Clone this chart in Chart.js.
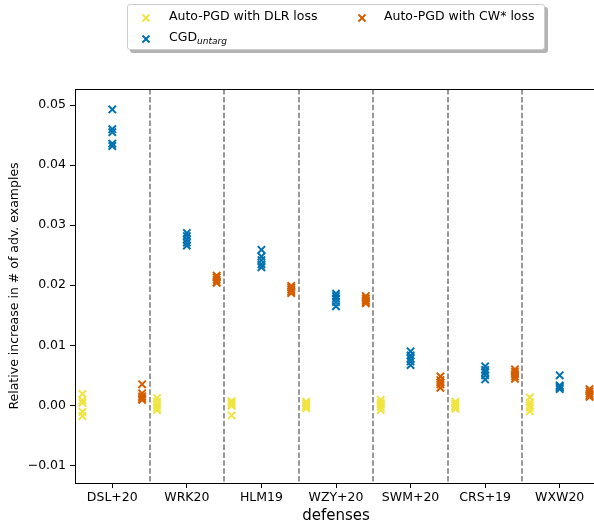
<!DOCTYPE html>
<html>
<head>
<meta charset="utf-8">
<script src="https://cdn.jsdelivr.net/npm/chart.js@4"></script>
<style>
  html, body { margin:0; padding:0; background:#fff; overflow:hidden; width:594px; height:527px; }
  #wrap { position:relative; width:600px; height:527px; }
  canvas { position:absolute; left:0; top:0; }
  #legend { position:absolute; left:127px; top:4px; width:416px; height:44px; border:1px solid #cccccc; border-radius:3px; background:#fff; box-shadow:3px 3px 0 rgba(128,128,128,0.6); font-family:"DejaVu Sans"; font-size:12.5px; color:#000; }
  .item { position:absolute; white-space:nowrap; line-height:15px; }
  .mk { position:absolute; }
  sub { font-size:9px; font-style:italic; vertical-align:-3px; line-height:0; }
</style>
</head>
<body>
<div id="wrap">
  <canvas id="c" width="600" height="527"></canvas>
  <div id="legend"></div>
</div>
<script>
const categories = ['DSL+20','WRK20','HLM19','WZY+20','SWM+20','CRS+19','WXW20'];
const yTicks = [-0.01, 0.00, 0.01, 0.02, 0.03, 0.04, 0.05];

const dlrValues = [
  [0.0019, 0.0008, 0.0004, -0.0011, -0.0018],
  [0.0012, 0.0006, 0.0000, -0.0004, -0.0008],
  [0.0007, 0.0004, 0.0002, -0.0001, -0.0017],
  [0.0006, 0.0003, 0.0000, -0.0003, -0.0005],
  [0.0009, 0.0004, 0.0001, -0.0003, -0.0008],
  [0.0006, 0.0003, 0.0000, -0.0003, -0.0006],
  [0.0013, 0.0005, 0.0000, -0.0004, -0.0010]
];
const cgdValues = [
  [0.0493, 0.0460, 0.0455, 0.0436, 0.0432],
  [0.0287, 0.0282, 0.0276, 0.0271, 0.0266],
  [0.0259, 0.0248, 0.0242, 0.0235, 0.0230],
  [0.0186, 0.0182, 0.0178, 0.0172, 0.0165],
  [0.0090, 0.0083, 0.0078, 0.0073, 0.0067],
  [0.0065, 0.0059, 0.0055, 0.0050, 0.0043],
  [0.0050, 0.0033, 0.0031, 0.0029, 0.0027]
];
const cwValues = [
  [0.0035, 0.0020, 0.0015, 0.0012, 0.0009],
  [0.0216, 0.0213, 0.0209, 0.0205, 0.0204],
  [0.0199, 0.0196, 0.0193, 0.0190, 0.0187],
  [0.0182, 0.0178, 0.0175, 0.0172, 0.0170],
  [0.0048, 0.0042, 0.0038, 0.0035, 0.0029],
  [0.0060, 0.0056, 0.0052, 0.0048, 0.0044],
  [0.0027, 0.0023, 0.0019, 0.0016, 0.0014]
];

const seriesNames = ['Auto-PGD with DLR loss', 'CGD', 'Auto-PGD with CW* loss'];
const colors = ['#f0e442', '#0072b2', '#d55e00'];
const offsets = [-0.4, 0, 0.4];

function toPoints(vals, off) {
  const pts = [];
  vals.forEach((arr, i) => arr.forEach(v => pts.push({x: i + off, y: v})));
  return pts;
}
const allVals = [dlrValues, cgdValues, cwValues];
const datasets = allVals.map((vals, k) => ({
  label: seriesNames[k],
  data: toPoints(vals, offsets[k]),
  pointStyle: 'crossRot',
  pointRadius: 5.2,
  pointHoverRadius: 5.2,
  pointBorderWidth: 2,
  borderColor: colors[k],
  backgroundColor: colors[k],
  showLine: false
}));

const FONT = 'DejaVu Sans';
Chart.defaults.color = '#000';
Chart.defaults.font.family = FONT;

const sepLines = {
  id: 'sepLines',
  afterLayout(chart) {
    // force the plot frame to the reference geometry (right spine just past the picture edge)
    const a = chart.chartArea;
    const targetRight = 597;
    if (Math.abs(a.right - targetRight) > 0.01) {
      a.right = targetRight;
      a.width = a.right - a.left;
      chart.scales.x.right = targetRight;
      chart.scales.x.width = targetRight - chart.scales.x.left;
      chart.scales.x.configure();
    }
  },
  beforeDatasetsDraw(chart) {
    const {ctx, chartArea, scales} = chart;
    ctx.save();
    ctx.strokeStyle = '#808080';
    ctx.lineWidth = 1.6;
    ctx.setLineDash([5.5, 2.4]);
    for (let i = 0; i < categories.length - 1; i++) {
      const x = Math.round(scales.x.getPixelForValue(i + 0.5));
      ctx.beginPath();
      ctx.moveTo(x, chartArea.top);
      ctx.lineTo(x, chartArea.bottom);
      ctx.stroke();
    }
    ctx.restore();
  },
  afterDraw(chart) {
    const {ctx, chartArea} = chart;
    ctx.save();
    ctx.strokeStyle = '#000';
    ctx.lineWidth = 1;
    ctx.strokeRect(Math.round(chartArea.left) + 0.5, Math.round(chartArea.top) + 0.5,
      chartArea.right - chartArea.left, chartArea.bottom - chartArea.top);
    ctx.restore();
  }
};

new Chart(document.getElementById('c'), {
  type: 'scatter',
  data: { datasets },
  options: {
    responsive: false,
    animation: false,
    devicePixelRatio: 1,
    layout: { padding: { left: 0, top: 89, right: 3, bottom: 0 } },
    plugins: { legend: { display: false }, tooltip: { enabled: false } },
    scales: {
      x: {
        type: 'linear',
        min: -0.5, max: 6.5,
        afterFit(s) { s.height = 44; s.paddingLeft = 0; s.paddingRight = 0; },
        afterBuildTicks(s) { s.ticks = categories.map((c, i) => ({value: i})); },
        ticks: {
          autoSkip: false, maxRotation: 0, padding: 2,
          font: { family: FONT, size: 12.5 }, color: '#000',
          callback: v => categories[v]
        },
        grid: { display: true, drawOnChartArea: false, drawTicks: true, tickLength: 5, tickColor: '#000' },
        border: { display: true, color: '#000', width: 1 },
        title: { display: true, text: 'defenses', font: { family: FONT, size: 15 }, color: '#000', padding: { top: 0, bottom: 2 } }
      },
      y: {
        min: -0.01295, max: 0.0527,
        afterFit(s) { s.width = 75; s.paddingTop = 0; s.paddingBottom = 0; },
        afterBuildTicks(s) { s.ticks = yTicks.map(v => ({value: v})); },
        ticks: {
          padding: 4,
          font: { family: FONT, size: 12.5 }, color: '#000',
          callback: v => (Math.abs(v) < 1e-9 ? '0.00' : (v < 0 ? '\u2212' + Math.abs(v).toFixed(2) : v.toFixed(2)))
        },
        grid: { display: true, drawOnChartArea: false, drawTicks: true, tickLength: 5, tickColor: '#000' },
        border: { display: true, color: '#000', width: 1 },
        title: { display: true, text: 'Relative increase in # of adv. examples', font: { family: FONT, size: 12.5 }, color: '#000', padding: { top: 7.5, bottom: 0 } }
      }
    }
  },
  plugins: [sepLines]
});

// HTML legend (matplotlib-style, two columns, column-major order)
function xMark(color) {
  return '<svg width="10" height="10" viewBox="0 0 10 10"><line x1="1.5" y1="1.5" x2="8.5" y2="8.5" stroke="' + color +
    '" stroke-width="2"/><line x1="8.5" y1="1.5" x2="1.5" y2="8.5" stroke="' + color + '" stroke-width="2"/></svg>';
}
const leg = document.getElementById('legend');
const legendItems = [
  { k: 0, mx: 13, ty: 3, tx: 41, html: seriesNames[0] },
  { k: 1, mx: 13, ty: 24, tx: 41, html: seriesNames[1] + '<sub>untarg</sub>' },
  { k: 2, mx: 229, ty: 3, tx: 256, html: seriesNames[2] }
];
legendItems.forEach(it => {
  const m = document.createElement('div');
  m.className = 'mk';
  m.style.left = it.mx + 'px';
  m.style.top = (it.ty + 2.5) + 'px';
  m.innerHTML = xMark(colors[it.k]);
  leg.appendChild(m);
  const t = document.createElement('div');
  t.className = 'item';
  t.style.left = it.tx + 'px';
  t.style.top = it.ty + 'px';
  t.innerHTML = it.html;
  leg.appendChild(t);
});
</script>
</body>
</html>
